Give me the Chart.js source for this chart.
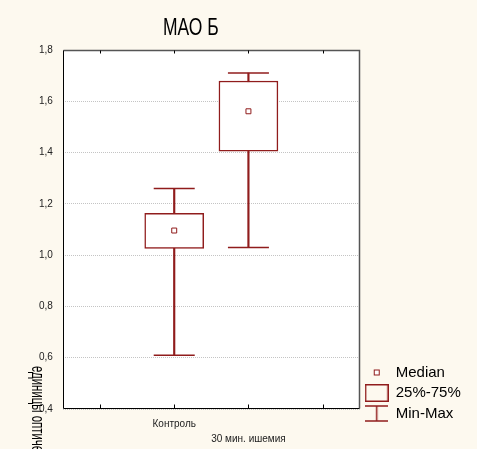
<!DOCTYPE html>
<html>
<head>
<meta charset="utf-8">
<script src="https://cdn.jsdelivr.net/npm/chart.js@4.4.1/dist/chart.umd.min.js"></script>
<style>
  html, body { margin: 0; padding: 0; background: #fdf9ef; }
  canvas { display: block; }
</style>
</head>
<body>
<canvas id="boxChart" width="477" height="449"></canvas>
<script>
const categories = ['Контроль', '30 мин. ишемия'];
const minValues = [0.61, 1.03];
const q1Values = [1.026, 1.405];
const medianValues = [1.096, 1.561];
const q3Values = [1.163, 1.679];
const maxValues = [1.26, 1.71];
const legendLabels = ['Median', '25%-75%', 'Min-Max'];
const yMin = 0.4;
const yMax = 1.8;
const yStep = 0.2;
const chartTitle = 'МАО Б';
const yTitle = 'единицы оптической плотности';

const boxColor = '#901c1c';

// empty slots left and right, like the original axis
const pad = arr => [null, ...arr, null];
const xLabels = ['', categories[0], ['', categories[1]], ''];

function makeIcon(w, h, draw) {
    const c = document.createElement('canvas');
    c.width = w;
    c.height = h;
    const g = c.getContext('2d');
    g.strokeStyle = boxColor;
    draw(g);
    return c;
}

const legendIcons = [
    makeIcon(8, 8, g => {
        g.lineWidth = 1;
        g.fillStyle = '#fff';
        g.fillRect(1.5, 1.5, 5, 5);
        g.strokeRect(1.5, 1.5, 5, 5);
    }),
    makeIcon(24, 18, g => {
        g.lineWidth = 1.5;
        g.strokeRect(0.75, 0.75, 22.5, 16.5);
    }),
    makeIcon(23, 17, g => {
        g.lineWidth = 1.5;
        g.beginPath();
        g.moveTo(0, 1); g.lineTo(23, 1);
        g.moveTo(11.5, 1); g.lineTo(11.5, 16);
        g.moveTo(0, 16); g.lineTo(23, 16);
        g.stroke();
    })
];
const blankIcon = makeIcon(1, 1, () => {});

const backgroundPlugin = {
    id: 'background',
    beforeDraw(chart) {
        const {ctx, chartArea} = chart;
        ctx.save();
        ctx.fillStyle = '#fdf9ef';
        ctx.fillRect(0, 0, chart.width, chart.height);
        ctx.fillStyle = '#fff';
        ctx.fillRect(chartArea.left, chartArea.top, chartArea.right - chartArea.left, chartArea.bottom - chartArea.top);
        ctx.restore();
    }
};

// condensed text, the original uses a narrow font
function narrowText(ctx, text, x, y, size, squeeze, angle) {
    ctx.save();
    ctx.translate(x, y);
    ctx.rotate(angle);
    ctx.scale(squeeze, 1);
    ctx.fillStyle = '#000';
    ctx.font = size + 'px Arial, "Liberation Sans", sans-serif';
    ctx.textBaseline = 'middle';
    ctx.textAlign = angle ? 'left' : 'center';
    ctx.fillText(text, 0, 0);
    ctx.restore();
}

const framePlugin = {
    id: 'frame',
    afterDraw(chart) {
        const {ctx, chartArea} = chart;
        const l = Math.round(chartArea.left) + 0.5;
        const r = Math.round(chartArea.right) - 0.5;
        const t = Math.round(chartArea.top) + 0.5;
        const b = Math.round(chartArea.bottom) - 0.5;
        ctx.save();
        ctx.lineWidth = 1.5;
        ctx.strokeStyle = '#555';
        ctx.beginPath();
        ctx.moveTo(l, t); ctx.lineTo(r, t); ctx.lineTo(r, b);
        ctx.stroke();
        ctx.lineWidth = 1;
        ctx.strokeStyle = '#000';
        ctx.beginPath();
        ctx.moveTo(l, t); ctx.lineTo(l, b); ctx.lineTo(r, b);
        // inward tick marks on the category axis
        const xs = chart.scales.x;
        xs.ticks.forEach((tick, i) => {
            const px = Math.round(xs.getPixelForTick(i)) + 0.5;
            ctx.moveTo(px, b); ctx.lineTo(px, b - 4);
            ctx.moveTo(px, t); ctx.lineTo(px, t + 3);
        });
        ctx.stroke();
        ctx.restore();

        narrowText(ctx, chartTitle, chart.width * 0.4, 29, 23, 0.76, 0);
        narrowText(ctx, yTitle, chartArea.left - 26, chartArea.bottom - 43, 19, 0.6, Math.PI / 2);
    }
};

Chart.defaults.font.family = 'Arial, "Liberation Sans", sans-serif';

const boxCtx = document.getElementById('boxChart').getContext('2d');
const boxChart = new Chart(boxCtx, {
    type: 'bar',
    data: {
        labels: xLabels,
        datasets: [{
            label: 'Min-Max',
            data: pad(minValues.map((v, i) => [v, maxValues[i]])),
            backgroundColor: boxColor,
            borderWidth: 0,
            barThickness: 1.5,
            grouped: false,
            order: 4
        },
        {
            type: 'line',
            label: 'Max',
            data: pad(maxValues),
            showLine: false,
            pointStyle: 'line',
            pointRadius: 20.5,
            pointBorderWidth: 1.5,
            pointBorderColor: boxColor,
            order: 3
        },
        {
            type: 'line',
            label: 'Min',
            data: pad(minValues),
            showLine: false,
            pointStyle: 'line',
            pointRadius: 20.5,
            pointBorderWidth: 1.5,
            pointBorderColor: boxColor,
            order: 3
        },
        {
            label: '25%-75%',
            data: pad(q1Values.map((v, i) => [v, q3Values[i]])),
            backgroundColor: '#fff',
            borderColor: boxColor,
            borderWidth: 1.5,
            borderSkipped: false,
            barThickness: 59,
            grouped: false,
            order: 2
        },
        {
            type: 'line',
            label: 'Median',
            data: pad(medianValues),
            showLine: false,
            pointStyle: 'rect',
            pointRadius: 3.5,
            pointBackgroundColor: '#fff',
            pointBorderColor: boxColor,
            pointBorderWidth: 1,
            order: 1
        }]
    },
    options: {
        responsive: false,
        animation: false,
        events: [],
        layout: {
            padding: { left: 29, right: 7, top: 50, bottom: 2 }
        },
        scales: {
            x: {
                offset: true,
                grid: { display: false, drawTicks: false },
                border: { display: false },
                ticks: {
                    autoSkip: false,
                    maxRotation: 0,
                    padding: 7.5,
                    color: '#222',
                    font: { size: 10, lineHeight: 1.5 }
                },
                afterFit: scale => { scale.height = 38; }
            },
            y: {
                min: yMin,
                max: yMax,
                grid: { color: '#c4c4c4', drawTicks: false },
                border: { display: false, dash: [1, 1] },
                ticks: {
                    stepSize: yStep,
                    padding: 10,
                    color: '#222',
                    font: { size: 10 },
                    callback: v => v.toFixed(1).replace('.', ',')
                }
            }
        },
        plugins: {
            title: { display: false },
            legend: {
                display: true,
                position: 'right',
                align: 'end',
                labels: {
                    color: '#000',
                    font: { size: 15 },
                    usePointStyle: true,
                    pointStyleWidth: 23,
                    padding: 5.5,
                    generateLabels: () => legendIcons.map((icon, i) => ({
                        text: legendLabels[i],
                        pointStyle: icon,
                        fillStyle: 'transparent',
                        strokeStyle: 'transparent',
                        lineWidth: 0,
                        hidden: false
                    })).concat([{
                        text: '',
                        pointStyle: blankIcon,
                        fillStyle: 'transparent',
                        strokeStyle: 'transparent',
                        lineWidth: 0,
                        hidden: false
                    }])
                }
            },
            tooltip: { enabled: false }
        }
    },
    plugins: [backgroundPlugin, framePlugin]
});
</script>
</body>
</html>
